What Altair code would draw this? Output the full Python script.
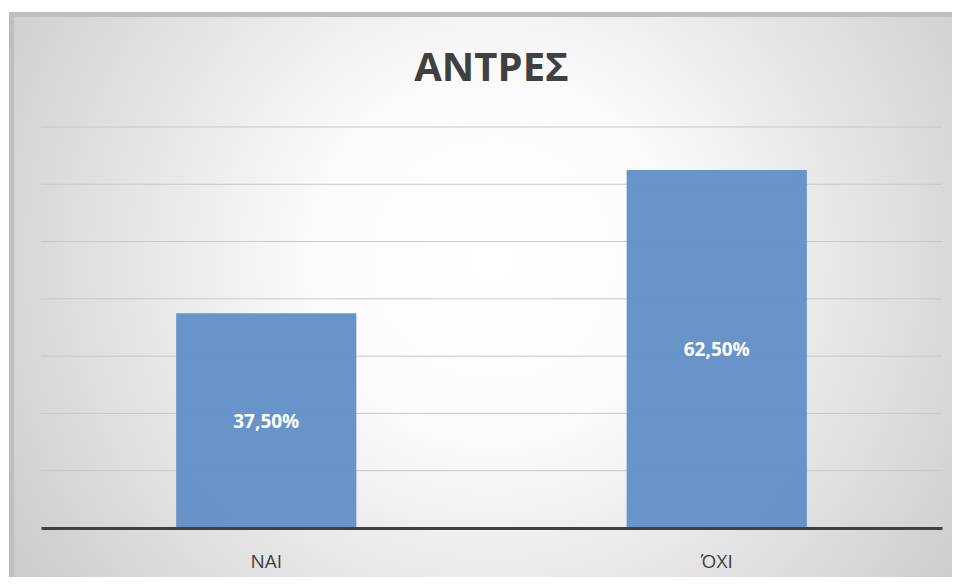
import altair as alt
import pandas as pd

categories = ["ΝΑΙ", "ΌΧΙ"]
values = [37.5, 62.5]
labels = ["37,50%", "62,50%"]
grid_values = [10, 20, 30, 40, 50, 60, 70]
title_text = "ΑΝΤΡΕΣ"

df = pd.DataFrame({"cat": categories, "val": values, "label": labels})
df["mid"] = df["val"] / 2
grid_df = pd.DataFrame({"g": grid_values})
dummy = pd.DataFrame({"a": [0]})
title_df = pd.DataFrame({"t": [title_text]})

W, H = 901, 401
FONT = "Open Sans"

yscale = alt.Scale(domain=[0, 70], nice=False, zero=True)
xscale = alt.Scale(domain=categories, paddingInner=0.6, paddingOuter=0.3)

frame = alt.Chart(dummy).mark_rect(fill="#bfbfbf").encode(
    x=alt.value(-32), x2=alt.value(930), y=alt.value(-115), y2=alt.value(470)
)

grad = alt.Chart(dummy).mark_rect(
    fill=alt.Gradient(
        gradient="radial",
        stops=[
            alt.GradientStop(offset=0, color="#ffffff"),
            alt.GradientStop(offset=0.25, color="#fbfbfb"),
            alt.GradientStop(offset=1, color="#bababa"),
        ],
        x1=0.5, y1=0.45, r1=0, x2=0.5, y2=0.45, r2=0.75,
    )
).encode(
    x=alt.value(-27), x2=alt.value(930), y=alt.value(-110), y2=alt.value(470)
)

title = alt.Chart(title_df).mark_text(
    font=FONT, fontSize=40, fontWeight="bold", color="#404040",
    align="center", baseline="alphabetic",
).encode(
    x=alt.value(W / 2), y=alt.value(-46), text="t:N"
)

grid = alt.Chart(grid_df).mark_rule(color="#c8c8c8", strokeWidth=1).encode(
    y=alt.Y("g:Q", scale=yscale, axis=None)
)

bars = alt.Chart(df).mark_bar(color="#6491c8", opacity=0.97).encode(
    x=alt.X(
        "cat:N",
        scale=xscale,
        sort=categories,
        title=None,
        axis=alt.Axis(
            domainColor="#404040",
            domainWidth=3,
            ticks=False,
            labelFont=FONT,
            labelFontSize=19,
            labelColor="#404040",
            labelPadding=24,
            labelAngle=0,
            zindex=1,
        ),
    ),
    y=alt.Y("val:Q", scale=yscale, axis=None),
)

text = alt.Chart(df).mark_text(
    font=FONT, fontSize=19, fontWeight="bold", color="white", baseline="middle", dy=1
).encode(
    x=alt.X("cat:N", scale=xscale, sort=categories),
    y=alt.Y("mid:Q", scale=yscale, axis=None),
    text="label:N",
)

chart = alt.layer(frame, grad, title, grid, bars, text).properties(
    width=W,
    height=H,
    autosize=alt.AutoSizeParams(type="none"),
    padding={"left": 33, "top": 119, "right": 10, "bottom": 49},
).configure_view(stroke=None).configure(background="white")

chart.save("out.html", embed_options={"renderer": "svg", "actions": False})
